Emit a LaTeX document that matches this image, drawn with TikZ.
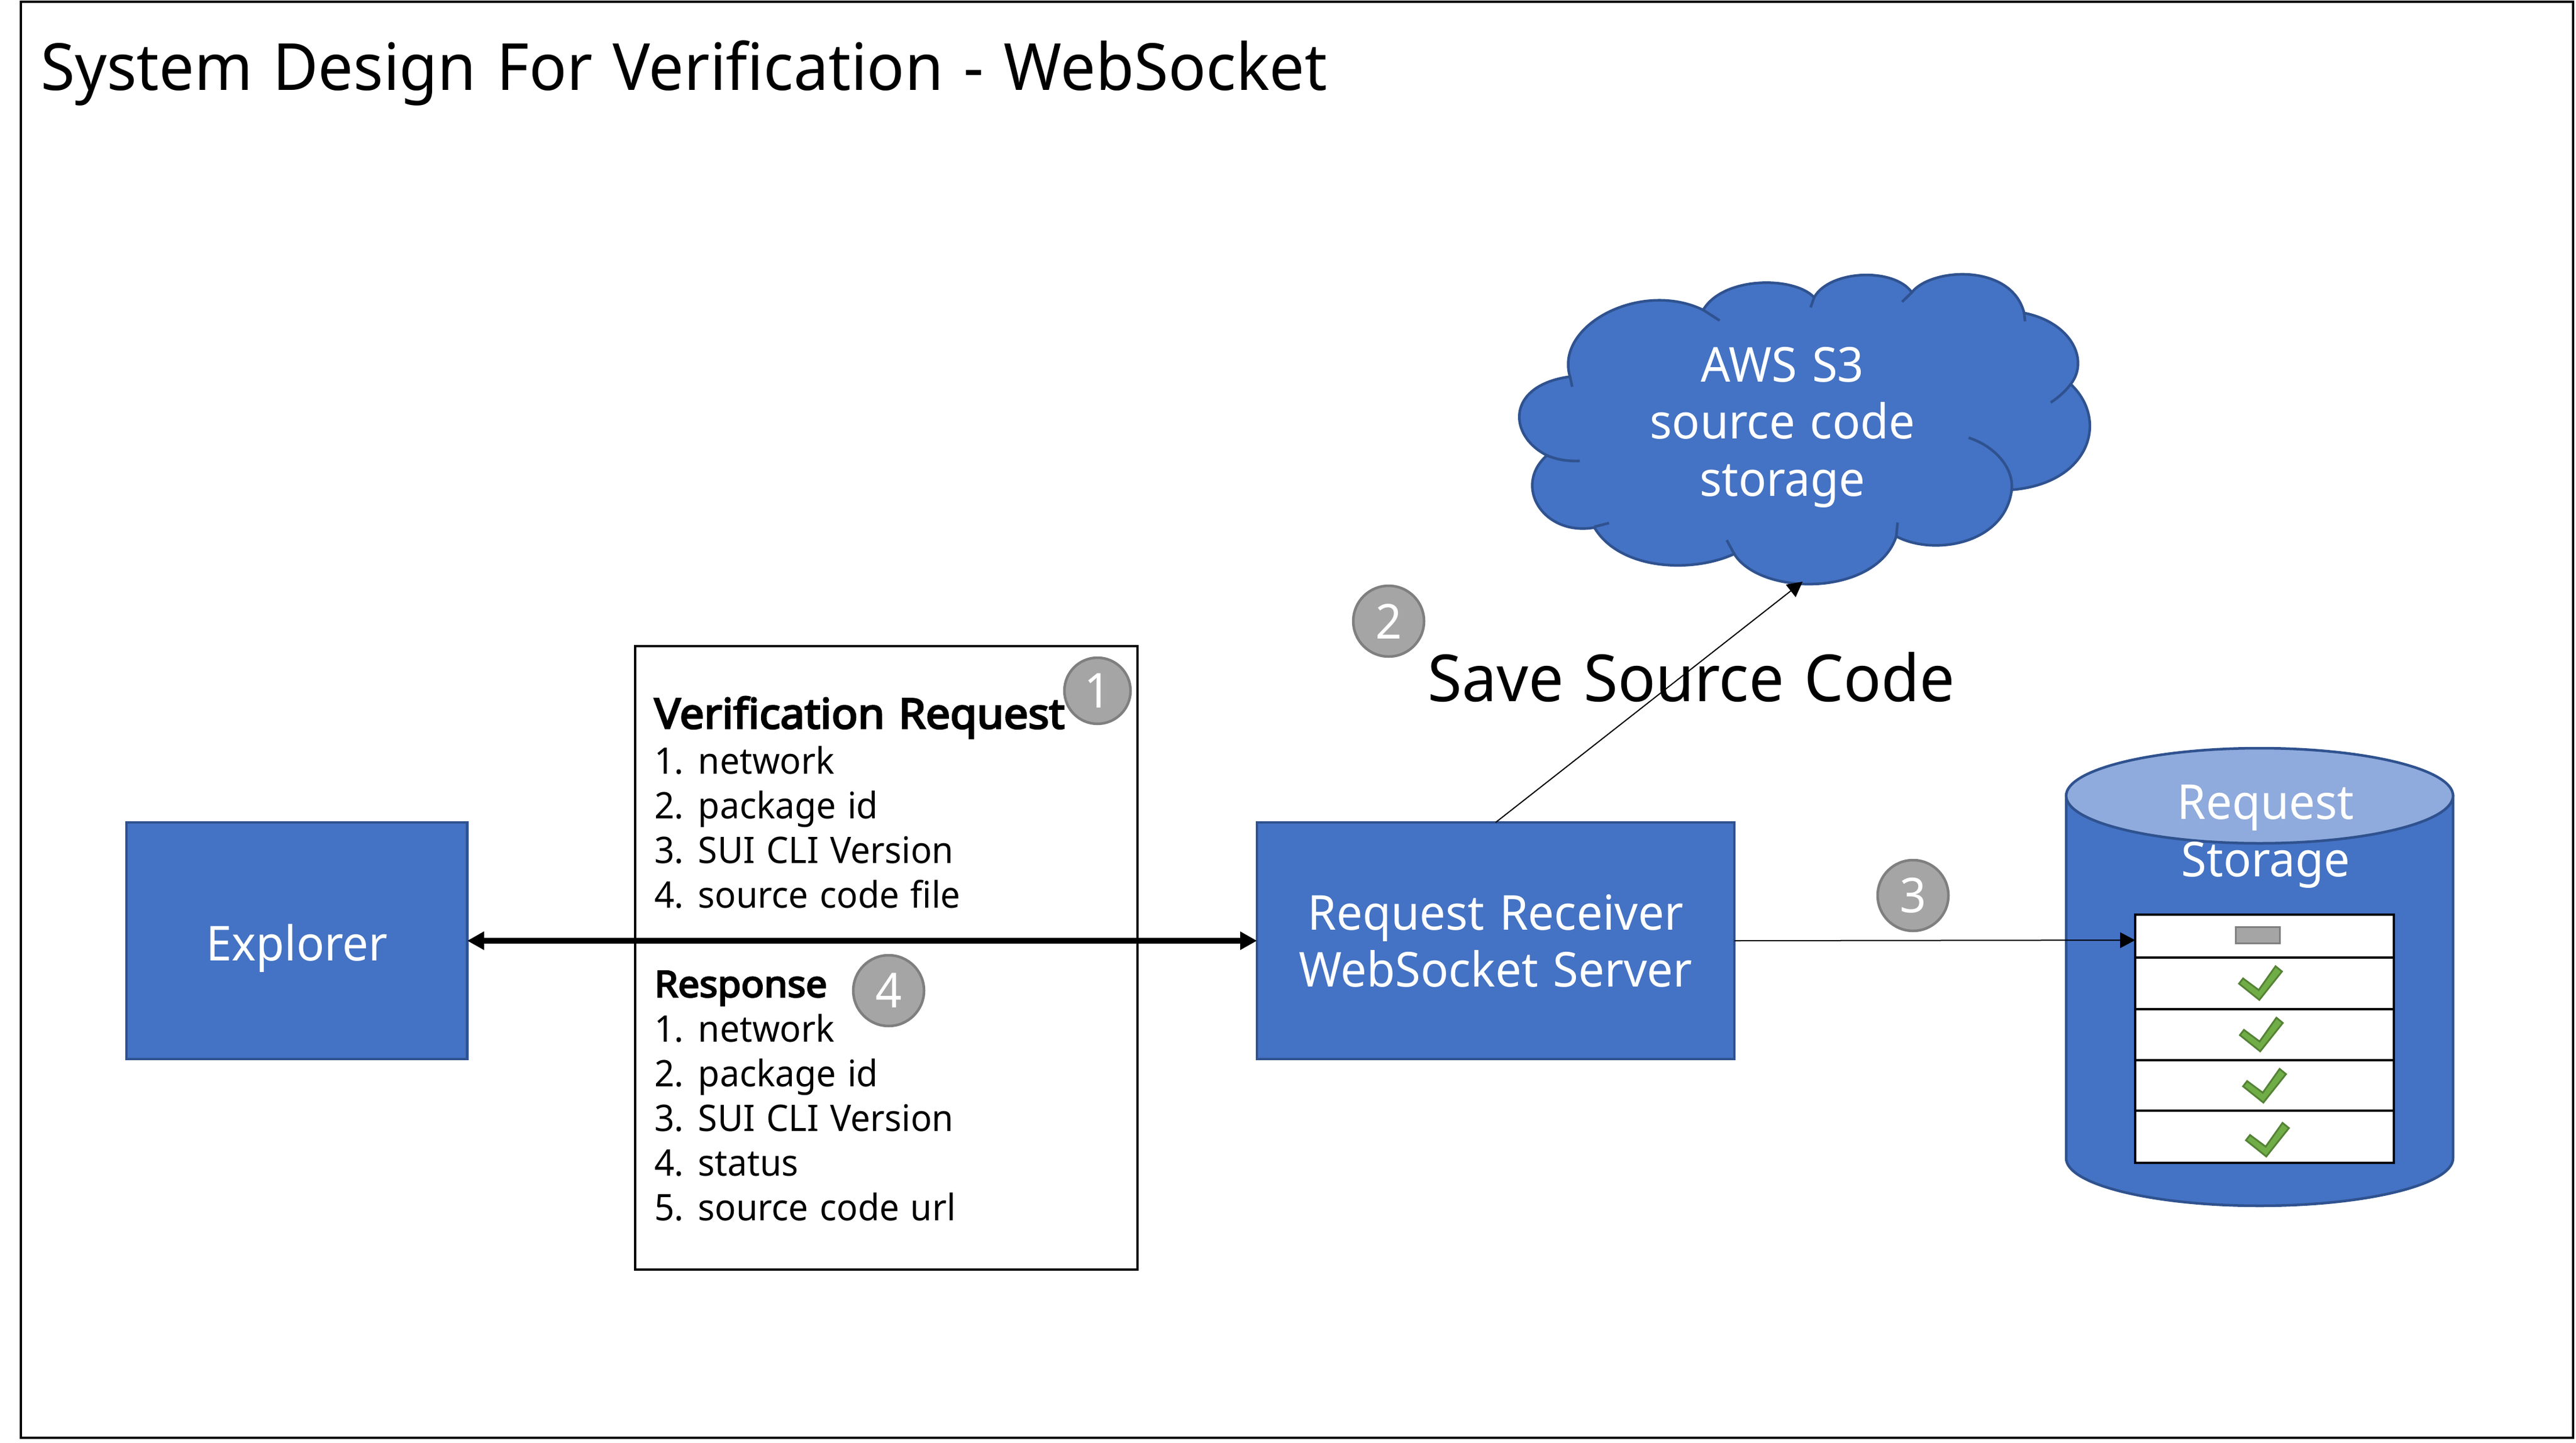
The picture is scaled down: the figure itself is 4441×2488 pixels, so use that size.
\documentclass[tikz,border=0pt]{standalone}
\usepackage{fontspec}
\setmainfont{Noto Sans}[FakeStretch=0.96,WordSpace=1.25]
\newfontfamily\headfont{Noto Sans}[FakeStretch=1.04,WordSpace=1.25,FakeBold=4]
\usetikzlibrary{arrows.meta}
\definecolor{bluefill}{HTML}{4472C4}
\definecolor{blueline}{HTML}{2F528F}
\definecolor{cyltop}{HTML}{8FAADC}
\definecolor{graybadge}{HTML}{A5A5A5}
\definecolor{grayline}{HTML}{7F7F7F}
\definecolor{checkfill}{HTML}{70AD47}
\definecolor{checkline}{HTML}{548235}
\tikzset{
  x=1pt,y=-1pt,
  bluebox/.style={draw=blueline,fill=bluefill,line width=4.5pt,outer sep=0pt,minimum width=#1,minimum height=408pt,inner sep=0pt,text=white,align=center,font=\fontsize{83}{98}\selectfont},
  badge/.style={circle,draw=grayline,fill=graybadge,line width=4.5pt,minimum size=122pt,inner sep=0pt,text=white,font=\fontsize{83}{98}\selectfont},
  whitetext/.style={text=white,align=center,inner sep=0pt,font=\fontsize{83}{98}\selectfont},
  listtext/.style={align=left,inner sep=0pt,anchor=north west,font=\fontsize{63}{77}\selectfont},
  headtext/.style={inner sep=0pt,anchor=base west},
  bigtext/.style={inner sep=0pt,anchor=base west,font=\fontsize{112}{130}\selectfont},
  thinarrow/.style={line width=2pt,-{Triangle[length=26pt,width=27pt]}},
  thickarrow/.style={line width=10pt,{Triangle[length=29pt,width=30pt]}-{Triangle[length=29pt,width=30pt]}},
  cloudoutline/.style={draw=blueline,line width=4.5pt},
  checkmark/.style={fill=checkfill,draw=checkline,line width=3pt},
}
\begin{document}
\begin{tikzpicture}
\useasboundingbox (0,0) rectangle (4441,2488);
\fill[white] (0,0) rectangle (4441,2488);
\draw[line width=4.5pt] (36,3) rectangle (4436,2479);
\node[bigtext] (title) at (70,156) {System Design For Verification - WebSocket};

% info box
\node[draw,line width=4.5pt,outer sep=0pt,minimum width=866pt,minimum height=1075pt,anchor=north west,inner sep=0pt] (infobox) at (1095,1114) {};
\node[headtext,font=\fontsize{72}{77}\headfont] (reqhead) at (1128,1256) {Verification Request};
\node[listtext] (reqlist) at (1128,1286) {1. network\\2. package id\\3. SUI CLI Version\\4. source code file};
\node[headtext,font=\fontsize{63}{77}\headfont] (resphead) at (1128,1719) {Response};
\node[listtext] (resplist) at (1128,1748) {1. network\\2. package id\\3. SUI CLI Version\\4. status\\5. source code url};

% boxes
\node[bluebox=587.5pt,anchor=north west] (explorer) at (218,1418) {\raisebox{-34pt}[0pt][0pt]{Explorer}};
\node[bluebox=823pt,anchor=north west] (server) at (2167,1418) {Request Receiver\\WebSocket Server};

% cloud
\begin{scope}[shift={(2500,400)},xscale=0.7653,yscale=0.4337]
\path[fill=bluefill,cloudoutline]
  (270,575) .. controls (235,370) and (430,190) .. (570,310)
  .. controls (615,175) and (775,175) .. (820,260)
  .. controls (855,150) and (1000,140) .. (1040,240)
  .. controls (1085,140) and (1265,125) .. (1293,322)
  .. controls (1400,360) and (1440,510) .. (1398,605)
  .. controls (1485,750) and (1440,1000) .. (1265,1025)
  .. controls (1250,1240) and (1090,1290) .. (1005,1210)
  .. controls (960,1450) and (700,1450) .. (640,1280)
  .. controls (540,1360) and (380,1340) .. (325,1175)
  .. controls (210,1210) and (140,1010) .. (218,888)
  .. controls (130,810) and (125,610) .. (270,575)
  -- cycle;
\draw[cloudoutline] (270,575) -- (275,615);
\draw[cloudoutline] (570,310) -- (607,352);
\draw[cloudoutline] (820,260) -- (812,300);
\draw[cloudoutline] (1040,240) -- (1018,278);
\draw[cloudoutline] (1293,322) -- (1295,355);
\draw[cloudoutline] (1398,605) .. controls (1385,635) and (1370,658) .. (1353,678);
\draw[cloudoutline] (1168,818) .. controls (1225,850) and (1270,935) .. (1265,1025);
\draw[cloudoutline] (1008,1155) -- (1005,1210);
\draw[cloudoutline] (623,1225) -- (640,1280);
\draw[cloudoutline] (358,1157) -- (325,1172);
\draw[cloudoutline] (218,888) .. controls (240,905) and (265,912) .. (292,910);
\coordinate (cloudbase) at (794,1390);
\end{scope}
\node[whitetext,anchor=base] (cloudtext) at (3073,658) {AWS S3};
\node[whitetext,anchor=base] (cloudtexttwo) at (3073,756) {source code};
\node[whitetext,anchor=base] (cloudtextthree) at (3073,855) {storage};

% cylinder
\path[fill=bluefill,draw=blueline,line width=4.5pt] (3562,1372) -- (3562,1997) arc[start angle=180,end angle=360,x radius=333.5,y radius=-82] -- (4229,1372) -- cycle;
\draw[fill=cyltop,draw=blueline,line width=4.5pt] (3895.5,1372) ellipse[x radius=333.5,y radius=82];
\node[whitetext,anchor=base] (reqstorage) at (3906,1412) {Request};
\node[whitetext,anchor=base] (reqstoragetwo) at (3906,1511) {Storage};

% table
\draw[fill=white,line width=4.5pt] (3681,1577) rectangle (4127,2005);
\foreach \yy in {1651,1740,1828,1915} \draw[line width=4pt] (3681,\yy) -- (4127,\yy);
\draw[fill=graybadge,draw=grayline,line width=3pt] (3854,1598) rectangle (3930,1626);
\foreach \dx/\dy in {0/0,1.5/88.7,7/177,12/270}
  \draw[checkmark,shift={(\dx,\dy)}] (3860,1696) -- (3867,1687) -- (3894,1707) -- (3923,1666) -- (3934,1675) -- (3895,1724) -- cycle;
\coordinate (tableleft) at (3681,1621);

% connectors
\draw[thickarrow] (explorer.east) -- (server.west);
\draw[thinarrow] (server.north) -- (cloudbase);
\draw[thinarrow] (server.east) -- (tableleft);

\node[bigtext] (savecode) at (2461,1209) {Save Source Code};
\node[badge,minimum size=114pt] (one) at (1892,1191) {1};
\node[badge] (two) at (2394,1071) {2};
\node[badge] (three) at (3298,1544) {3};
\node[badge] (four) at (1532,1708) {4};
\end{tikzpicture}
\end{document}
